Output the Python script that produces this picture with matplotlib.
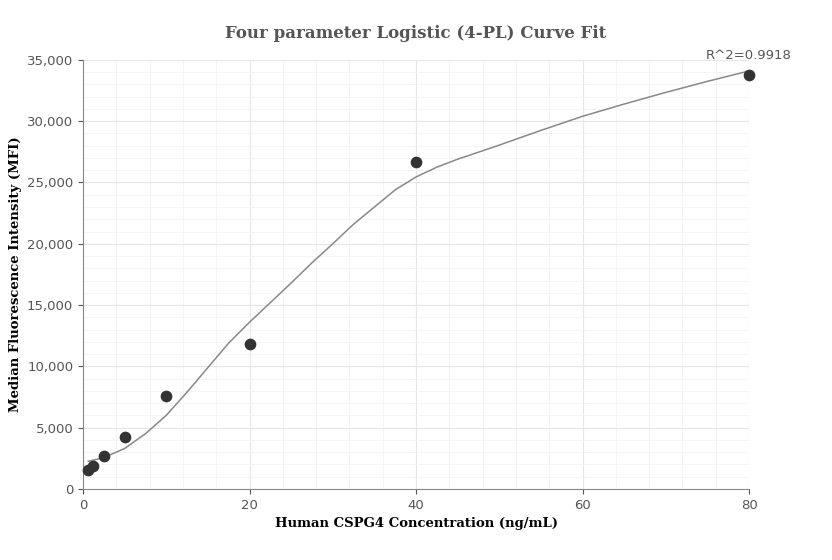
import matplotlib.pyplot as plt
from matplotlib.ticker import FuncFormatter, MultipleLocator

# measured points
conc = [0.625, 1.25, 2.5, 5, 10, 20, 40, 80]
mfi = [1500, 1850, 2650, 4250, 7550, 11800, 26700, 33750]

# fitted curve
curve_x = [0.625, 2.5, 5, 7.5, 10, 12.5, 15, 17.5, 20, 22.5, 25, 27.5, 30, 32.5, 35,
           37.5, 40, 42.5, 45, 50, 55, 60, 65, 70, 75, 80]
curve_y = [2250, 2550, 3300, 4500, 6000, 7900, 9900, 11900, 13600, 15200, 16800, 18450,
           20000, 21600, 23000, 24400, 25450, 26250, 26900, 28050, 29250, 30400, 31400,
           32350, 33250, 34100]

fig = plt.figure(figsize=(8.32, 5.6), dpi=100)
ax = fig.add_axes([0.0998, 0.127, 0.8005, 0.766])

ax.plot(curve_x, curve_y, color='#888888', lw=1.1, zorder=2)
ax.scatter(conc, mfi, s=55, color='#333333', zorder=3, clip_on=False)

ax.set_xlim(0, 80)
ax.set_ylim(0, 35000)
ax.xaxis.set_major_locator(MultipleLocator(20))
ax.xaxis.set_minor_locator(MultipleLocator(4))
ax.yaxis.set_major_locator(MultipleLocator(5000))
ax.yaxis.set_minor_locator(MultipleLocator(1000))
ax.yaxis.set_major_formatter(FuncFormatter(lambda v, p: f'{int(v):,}'))
ax.grid(which='major', color='#e6e6e6', lw=0.8)
ax.grid(which='minor', color='#f4f4f4', lw=0.6)
ax.set_axisbelow(True)
for s in ['top', 'right']:
    ax.spines[s].set_visible(False)
for s in ['left', 'bottom']:
    ax.spines[s].set_color('#888888')
ax.tick_params(which='minor', length=0)
ax.tick_params(colors='#555555', labelsize=9.5)

ax.set_title('Four parameter Logistic (4-PL) Curve Fit', family='DejaVu Serif',
             fontweight='bold', color='#555555', fontsize=12, pad=16)
ax.set_xlabel('Human CSPG4 Concentration (ng/mL)', family='DejaVu Serif',
              fontweight='bold', fontsize=9.5)
ax.set_ylabel('Median Fluorescence Intensity (MFI)', family='DejaVu Serif',
              fontweight='bold', fontsize=9.5)
ax.text(80, 34800, 'R^2=0.9918', ha='center', va='bottom', fontsize=9.5, color='#555555')

fig.savefig('out.png')
